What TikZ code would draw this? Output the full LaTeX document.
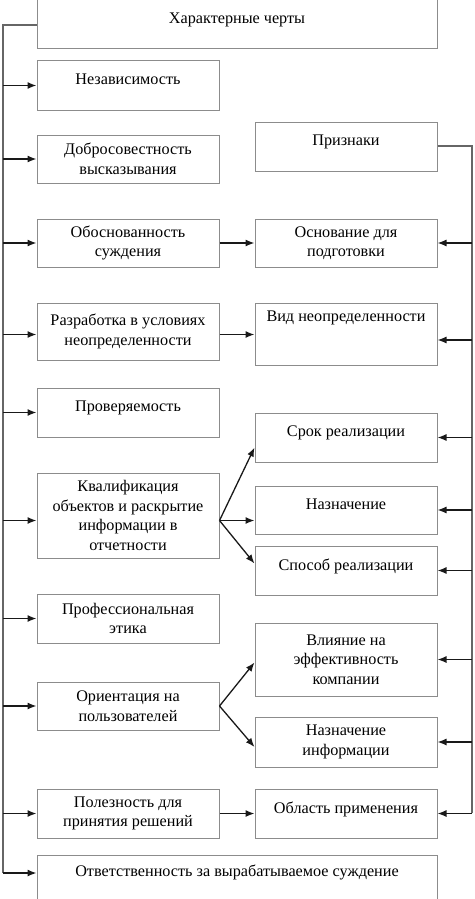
\documentclass[tikz,border=0pt]{standalone}
\usepackage{fontspec}
\setmainfont{Liberation Serif}
\usetikzlibrary{arrows.meta,calc}
\tikzset{
  box/.style={draw=black!45, line width=1pt, fill=white, align=center, inner sep=0pt,
    font=\fontsize{16.2}{19.5}\selectfont, text=black},
  arr/.style={draw=black!90, line width=1.3pt, -{Latex[length=9pt,width=7pt]}},
  trunk/.style={draw=black!60, line width=1.6pt}
}
\newcommand{\bx}[6]{\node[box, minimum width=#3-#1, minimum height=#4-#2] (#5) at ({(#1+#3)/2},{(#2+#4)/2}) {#6};}
\newcommand{\one}{\\[-7pt]\mbox{}}
\begin{document}
\begin{tikzpicture}[x=1pt,y=-1pt]
\useasboundingbox (0,0) rectangle (474,899);
% left column
\bx{37}{0}{437}{49}{top}{Характерные черты\one}
\bx{37}{61}{219}{110}{a1}{Независимость\one}
\bx{37}{135}{219}{183}{a2}{Добросовестность\\высказывания}
\bx{37}{219}{219}{267}{a3}{Обоснованность\\суждения}
\bx{37}{303}{219}{360}{a4}{Разработка в условиях\\неопределенности}
\bx{37}{388}{219}{437}{a5}{Проверяемость\one}
\bx{37}{473}{219}{558}{a6}{Квалификация\\объектов и раскрытие\\информации в\\отчетности}
\bx{37}{594}{219}{643}{a7}{Профессиональная\\этика}
\bx{37}{682}{219}{730}{a8}{Ориентация на\\пользователей}
\bx{37}{789}{219}{838}{a9}{Полезность для\\принятия решений}
\bx{37}{855}{437}{899}{a10}{Ответственность за вырабатываемое суждение\one}
% right column
\bx{255}{122}{437}{171}{b0}{Признаки\one}
\bx{255}{219}{437}{267}{b1}{Основание для\\подготовки}
\bx{255}{303}{437}{365}{b2}{Вид неопределенности\\\mbox{}\\[-4pt]\mbox{}}
\bx{255}{413}{437}{462}{b3}{Срок реализации\one}
\bx{255}{486}{437}{534}{b4}{Назначение\one}
\bx{255}{546}{437}{595}{b5}{Способ реализации\one}
\bx{255}{623}{437}{696}{b6}{Влияние на\\эффективность\\компании}
\bx{255}{717}{437}{767}{b7}{Назначение\\информации}
\bx{255}{789}{437}{838}{b8}{Область применения\one}
% trunks
\coordinate (LT) at (3,25);
\coordinate (LB) at (3,873);
\coordinate (RT) at (472,146);
\coordinate (RB) at (472,813);
\draw[trunk] (top.west |- LT) -- (LT) -- (LB);
\draw[trunk] (b0.east |- RT) -- (RT) -- (RB);
% helper points
\coordinate (a4w) at ([yshift=-3pt]a4.west);
\coordinate (a4e) at ([yshift=-3pt]a4.east);
\coordinate (a6w) at ([yshift=-5pt]a6.west);
\coordinate (Q) at ([yshift=-5pt]a6.east);
\coordinate (b2e) at ([yshift=-6pt]b2.east);
% left arrows
\foreach \n in {a1,a2,a3,a5,a7,a8,a9}{\draw[arr] (LT |- \n.west) -- (\n.west);}
\draw[arr] (LT |- a4w) -- (a4w);
\draw[arr] (LT |- a6w) -- (a6w);
\draw[arr] (LB) -- (LB -| a10.west);
% right arrows
\foreach \n in {b1,b3,b4,b5,b6,b7,b8}{\draw[arr] (RT |- \n.east) -- (\n.east);}
\draw[arr] (RT |- b2e) -- (b2e);
% middle connectors
\draw[arr] (a3.east) -- (b1.west);
\draw[arr] (a4e) -- (a4e -| b2.west);
\draw[arr] (a9.east) -- (b8.west);
\draw[arr] (Q) -- ([yshift=-10pt]b3.west);
\draw[arr] (Q) -- (Q -| b4.west);
\draw[arr] (Q) -- ([yshift=7pt]b5.west);
\draw[arr] (a8.east) -- ([yshift=-3pt]b6.west);
\draw[arr] (a8.east) -- ([yshift=-5pt]b7.west);
\end{tikzpicture}
\end{document}
